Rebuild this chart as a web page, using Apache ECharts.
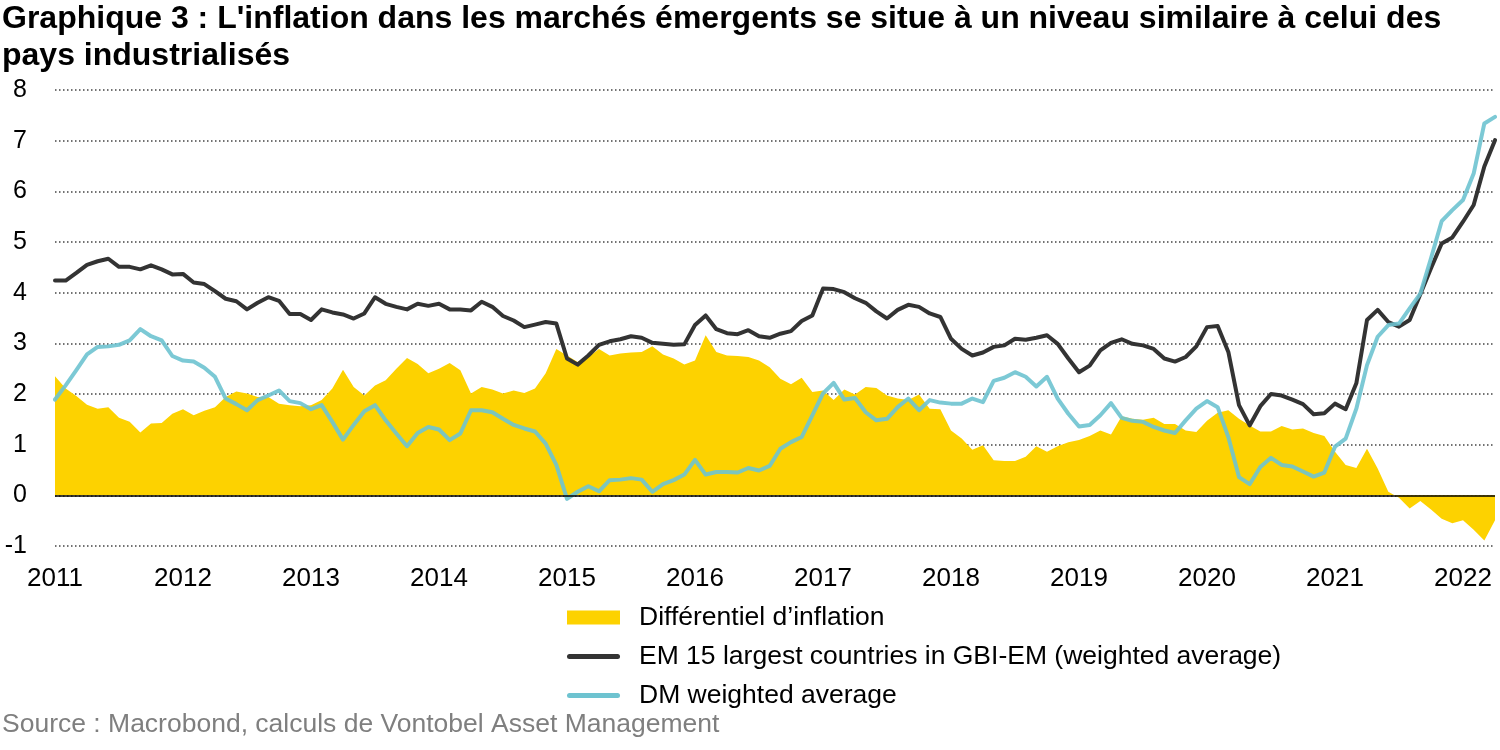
<!DOCTYPE html>
<html>
<head>
<meta charset="utf-8">
<script src="https://cdn.jsdelivr.net/npm/echarts@6/dist/echarts.min.js"></script>
<style>
html,body{margin:0;padding:0;background:#fff;}
#chart{width:1500px;height:750px;}
</style>
</head>
<body>
<div id="chart"></div>
<script>
// Monthly categories Jan 2011 .. Apr 2022
const months = [];
for (let y = 2011; y <= 2022; y++) {
  for (let m = 1; m <= 12; m++) {
    if (y === 2022 && m > 4) break;
    months.push(y + '-' + (m < 10 ? '0' + m : m));
  }
}

const yTicks = [-1, 0, 1, 2, 3, 4, 5, 6, 7, 8];

// Inflation differential (EM - DM), %
const differential = [
  2.35,2.11,1.96,1.79,1.71,1.74,1.53,1.45,1.24,1.42,1.43,1.61,
  1.70,1.58,1.67,1.74,1.94,2.05,2.01,1.94,1.94,1.81,1.78,1.76,
  1.78,1.88,2.11,2.48,2.14,1.97,2.17,2.27,2.50,2.71,2.59,2.41,
  2.50,2.61,2.47,2.01,2.14,2.09,2.01,2.07,2.02,2.11,2.41,2.89,
  2.76,2.63,2.73,2.89,2.76,2.80,2.82,2.83,2.94,2.78,2.70,2.58,
  2.66,3.16,2.83,2.76,2.75,2.73,2.66,2.53,2.30,2.19,2.32,2.04,
  2.07,1.88,2.09,1.99,2.14,2.12,1.97,1.91,1.88,1.99,1.71,1.70,
  1.28,1.12,0.90,0.99,0.69,0.68,0.68,0.76,0.97,0.86,0.97,1.05,
  1.09,1.17,1.28,1.20,1.56,1.51,1.49,1.53,1.41,1.41,1.28,1.25,
  1.47,1.63,1.68,1.51,1.38,1.26,1.26,1.37,1.30,1.32,1.23,1.17,
  0.86,0.60,0.54,0.92,0.53,0.07,-0.05,-0.26,-0.11,-0.28,-0.46,-0.55,
  -0.49,-0.68,-0.89,-0.49
];

// EM 15 largest countries in GBI-EM (weighted average), %
const emInflation = [
  4.24,4.24,4.39,4.55,4.62,4.67,4.51,4.51,4.46,4.54,4.46,4.36,
  4.37,4.20,4.17,4.03,3.88,3.83,3.67,3.80,3.91,3.84,3.58,3.58,
  3.46,3.67,3.61,3.57,3.49,3.59,3.91,3.78,3.72,3.67,3.78,3.74,
  3.78,3.67,3.67,3.65,3.82,3.72,3.54,3.45,3.32,3.37,3.42,3.39,
  2.70,2.58,2.76,2.97,3.04,3.08,3.14,3.11,3.01,2.99,2.97,2.98,
  3.36,3.55,3.28,3.20,3.18,3.26,3.14,3.11,3.19,3.24,3.44,3.55,
  4.08,4.07,4.01,3.89,3.80,3.63,3.49,3.66,3.76,3.72,3.59,3.52,
  3.09,2.89,2.76,2.82,2.93,2.96,3.09,3.07,3.11,3.16,2.99,2.70,
  2.43,2.56,2.86,3.01,3.08,2.99,2.96,2.89,2.70,2.64,2.73,2.94,
  3.32,3.34,2.83,1.78,1.38,1.76,2.00,1.97,1.89,1.80,1.60,1.62,
  1.81,1.70,2.21,3.46,3.66,3.42,3.33,3.46,3.97,4.48,4.97,5.09,
  5.40,5.73,6.49,7.01
];

// DM weighted average, %
const dmInflation = [
  1.89,2.17,2.47,2.78,2.93,2.94,2.97,3.06,3.28,3.14,3.06,2.75,
  2.66,2.64,2.52,2.34,1.91,1.80,1.68,1.88,1.97,2.07,1.86,1.82,
  1.70,1.78,1.45,1.10,1.39,1.66,1.78,1.48,1.22,0.97,1.23,1.35,
  1.30,1.09,1.22,1.68,1.68,1.64,1.51,1.39,1.32,1.26,1.02,0.60,
  -0.07,0.07,0.18,0.08,0.30,0.31,0.34,0.31,0.07,0.22,0.30,0.41,
  0.70,0.41,0.46,0.46,0.45,0.54,0.49,0.58,0.92,1.05,1.15,1.58,
  2.01,2.22,1.89,1.92,1.64,1.48,1.51,1.74,1.91,1.68,1.88,1.83,
  1.81,1.81,1.91,1.84,2.26,2.32,2.43,2.34,2.15,2.34,1.91,1.61,
  1.36,1.39,1.58,1.82,1.53,1.47,1.45,1.35,1.28,1.23,1.48,1.71,
  1.86,1.74,1.15,0.36,0.22,0.56,0.74,0.60,0.57,0.47,0.37,0.45,
  0.96,1.12,1.71,2.57,3.13,3.36,3.39,3.69,3.98,4.68,5.41,5.63,
  5.83,6.35,7.34,7.47
];

const seriesNames = [
  'Différentiel d\u2019inflation',
  'EM 15 largest countries in GBI-EM (weighted average)',
  'DM weighted average'
];

const titleText = "Graphique 3 : L'inflation dans les marchés émergents se situe à un niveau similaire à celui des\npays industrialisés";
const sourceText = 'Source : Macrobond, calculs de Vontobel Asset Management';

const FONT = '"Liberation Sans", Arial, sans-serif';
const LINE_ICON = 'path://M2.5,0 L50.5,0 A2.5,2.5 0 0 1 50.5,5 L2.5,5 A2.5,2.5 0 0 1 2.5,0 Z';
const chart = echarts.init(document.getElementById('chart'), null, {renderer: 'canvas'});

chart.setOption({
  backgroundColor: '#ffffff',
  animation: false,
  textStyle: {fontFamily: FONT},
  title: {
    text: titleText,
    left: 2, top: 1, padding: 0,
    textStyle: {fontFamily: FONT, fontSize: 32, fontWeight: 'bold', color: '#000', lineHeight: 37}
  },
  graphic: [{
    type: 'text', left: 2, top: 711,
    style: {text: sourceText, fontFamily: FONT, fontSize: 26.5, fill: '#7f7f7f'}
  }],
  legend: {
    orient: 'vertical',
    left: 567, top: 604,
    padding: 0,
    itemWidth: 53, itemHeight: 14, itemGap: 12,
    symbolKeepAspect: true,
    textStyle: {fontFamily: FONT, fontSize: 26.5, color: '#000', lineHeight: 26, padding: [0, 0, 0, 14]},
    data: [
      {name: seriesNames[0], icon: 'rect'},
      {name: seriesNames[1], icon: LINE_ICON},
      {name: seriesNames[2], icon: LINE_ICON}
    ]
  },
  grid: {left: 55, right: 5, top: 90, bottom: 204, containLabel: false},
  xAxis: {
    type: 'category',
    data: months,
    boundaryGap: false,
    axisLine: {show: false, onZero: false},
    axisTick: {show: false},
    splitLine: {show: false},
    axisLabel: {
      interval: function (idx) { return idx % 12 === 0; },
      formatter: function (v) { return v.slice(0, 4); },
      fontFamily: FONT, fontSize: 26, color: '#000', margin: 20
    }
  },
  yAxis: {
    type: 'value',
    min: yTicks[0], max: yTicks[yTicks.length - 1], interval: 1,
    axisLine: {show: false},
    axisTick: {show: false},
    axisLabel: {fontFamily: FONT, fontSize: 25, color: '#000', margin: 28},
    splitLine: {lineStyle: {color: '#444', width: 1.5, type: [1.5, 2.5]}}
  },
  series: [
    {
      name: seriesNames[0],
      type: 'line',
      data: differential,
      symbol: 'none',
      lineStyle: {width: 0},
      itemStyle: {color: '#FDD200'},
      areaStyle: {color: '#FDD200', opacity: 1, origin: 0},
      z: 1,
      markLine: {
        silent: true, symbol: 'none', label: {show: false},
        lineStyle: {color: '#000', width: 1.5, type: 'solid'},
        data: [{yAxis: 0}]
      }
    },
    {
      name: seriesNames[1],
      type: 'line',
      data: emInflation,
      symbol: 'none',
      itemStyle: {color: '#333333'},
      lineStyle: {color: '#333333', width: 4, cap: 'round', join: 'round'},
      z: 3
    },
    {
      name: seriesNames[2],
      type: 'line',
      data: dmInflation,
      symbol: 'none',
      itemStyle: {color: '#6EC3D0'},
      lineStyle: {color: '#6EC3D0', width: 4, opacity: 0.9, cap: 'round', join: 'round'},
      z: 4
    }
  ]
});
</script>
</body>
</html>
